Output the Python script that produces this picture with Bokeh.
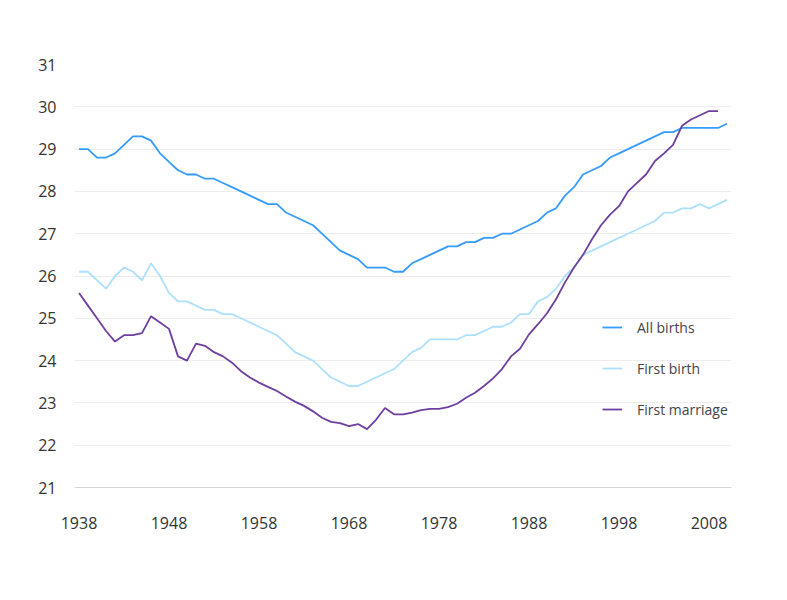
from bokeh.plotting import figure
from bokeh.models import FixedTicker, Range1d, Legend, LegendItem
from bokeh.embed import file_html
from bokeh.resources import INLINE

years = list(range(1938, 2011))
all_births = [
    29.0, 29.0, 28.8, 28.8, 28.9, 29.1, 29.3, 29.3, 29.2, 28.9,
    28.7, 28.5, 28.4, 28.4, 28.3, 28.3, 28.2, 28.1, 28.0, 27.9,
    27.8, 27.7, 27.7, 27.5, 27.4, 27.3, 27.2, 27.0, 26.8, 26.6,
    26.5, 26.4, 26.2, 26.2, 26.2, 26.1, 26.1, 26.3, 26.4, 26.5,
    26.6, 26.7, 26.7, 26.8, 26.8, 26.9, 26.9, 27.0, 27.0, 27.1,
    27.2, 27.3, 27.5, 27.6, 27.9, 28.1, 28.4, 28.5, 28.6, 28.8,
    28.9, 29.0, 29.1, 29.2, 29.3, 29.4, 29.4, 29.5, 29.5, 29.5,
    29.5, 29.5, 29.6,
]
first_birth = [
    26.1, 26.1, 25.9, 25.7, 26.0, 26.2, 26.1, 25.9, 26.3, 26.0,
    25.6, 25.4, 25.4, 25.3, 25.2, 25.2, 25.1, 25.1, 25.0, 24.9,
    24.8, 24.7, 24.6, 24.4, 24.2, 24.1, 24.0, 23.8, 23.6, 23.5,
    23.4, 23.4, 23.5, 23.6, 23.7, 23.8, 24.0, 24.2, 24.3, 24.5,
    24.5, 24.5, 24.5, 24.6, 24.6, 24.7, 24.8, 24.8, 24.9, 25.1,
    25.1, 25.4, 25.5, 25.7, 26.0, 26.2, 26.5, 26.6, 26.7, 26.8,
    26.9, 27.0, 27.1, 27.2, 27.3, 27.5, 27.5, 27.6, 27.6, 27.7,
    27.6, 27.7, 27.8,
]
marriage_years = list(range(1938, 2010))
first_marriage = [
    25.6, 25.3, 25.0, 24.7, 24.45, 24.6, 24.6, 24.65, 25.05, 24.9,
    24.75, 24.1, 24.0, 24.4, 24.35, 24.2, 24.1, 23.95, 23.75, 23.6,
    23.48, 23.38, 23.28, 23.15, 23.03, 22.93, 22.8, 22.65, 22.55, 22.52,
    22.45, 22.5, 22.38, 22.6, 22.88, 22.73, 22.73, 22.77, 22.83, 22.86,
    22.86, 22.9, 22.98, 23.12, 23.24, 23.4, 23.58, 23.8, 24.1, 24.28,
    24.62, 24.86, 25.12, 25.45, 25.85, 26.2, 26.5, 26.87, 27.2, 27.45,
    27.65, 28.0, 28.2, 28.4, 28.72, 28.9, 29.1, 29.55, 29.7, 29.8,
    29.9, 29.9,
]
x_ticks = [1938, 1948, 1958, 1968, 1978, 1988, 1998, 2008]
y_ticks = list(range(21, 32))
labels = ["All births", "First birth", "First marriage"]
colors = ["#359bff", "#ade0ff", "#6e3f9e"]

p = figure(width=787, height=600, output_backend="svg", toolbar_location=None,
           x_range=Range1d(1937.5, 2010.5), y_range=Range1d(21, 31),
           min_border_left=74, min_border_right=56, min_border_top=64,
           min_border_bottom=113)
p.outline_line_color = None
p.background_fill_color = "white"
p.border_fill_color = "white"

r1 = p.line(years, all_births, line_color=colors[0], line_width=1.8)
r2 = p.line(years, first_birth, line_color=colors[1], line_width=1.8)
r3 = p.line(marriage_years, first_marriage, line_color=colors[2], line_width=1.8)

p.xaxis.ticker = FixedTicker(ticks=x_ticks)
p.yaxis.ticker = FixedTicker(ticks=y_ticks)
for ax in (p.xaxis[0], p.yaxis[0]):
    ax.major_tick_line_color = None
    ax.minor_tick_line_color = None
    ax.major_label_text_font = "Open Sans"
    ax.major_label_text_font_size = "16px"
    ax.major_label_text_color = "#333333"
p.xaxis.axis_line_color = "#d6d6d6"
p.yaxis.axis_line_color = None
p.xaxis.major_label_standoff = 23
p.yaxis.major_label_standoff = 12
p.xgrid.grid_line_color = None
p.ygrid.grid_line_color = "#ececec"
p.ygrid.grid_line_width = 1

legend = Legend(items=[LegendItem(label=labels[0], renderers=[r1]),
                       LegendItem(label=labels[1], renderers=[r2]),
                       LegendItem(label=labels[2], renderers=[r3])],
                location=(528, 68))
legend.border_line_color = None
legend.background_fill_alpha = 0
legend.padding = 0
legend.margin = 0
legend.glyph_width = 20
legend.glyph_height = 20
legend.label_height = 20
legend.spacing = 21
legend.label_standoff = 15
legend.label_text_font = "Open Sans"
legend.label_text_font_size = "14px"
legend.label_text_color = "#444444"
p.add_layout(legend)

open("out.html", "w").write(file_html(p, INLINE))
